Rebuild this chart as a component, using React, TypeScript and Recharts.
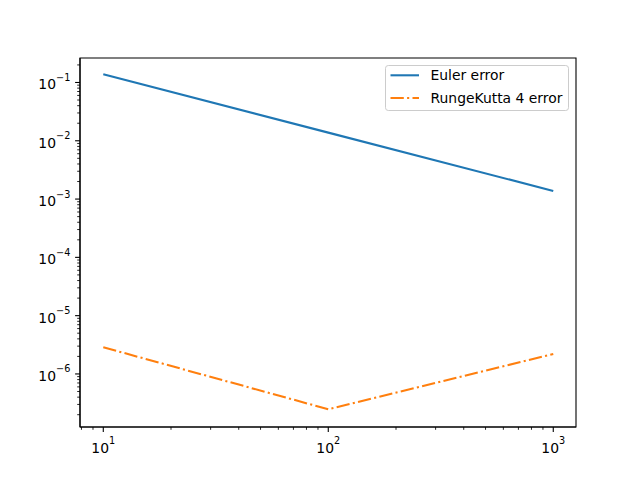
import { LineChart, Line, XAxis, YAxis, Legend, ReferenceArea } from 'recharts'

const N_VALUES = [10, 100, 1000]
const EULER_ERR = [0.138, 0.0138, 0.00138]
const RK4_ERR = [2.87e-6, 2.48e-7, 2.2e-6]

const X_DOMAIN = [7.88, 1262]
const Y_DOMAIN = [1.23e-7, 0.263]

const FONT = '"DejaVu Sans", sans-serif'
const BLUE = '#1f77b4'
const ORANGE = '#ff7f0e'
const DASHDOT = '13.3 3.3 2.1 3.3'

const data = N_VALUES.map((n, i) => ({ n, euler: EULER_ERR[i], rk4: RK4_ERR[i] }))

// log ticks: majors at powers of ten, minors at 2..9 x 10^k
function logTicks([lo, hi]: number[]) {
  const out: number[] = []
  for (let k = Math.floor(Math.log10(lo)); k <= Math.ceil(Math.log10(hi)); k++) {
    for (let m = 1; m <= 9; m++) {
      const v = m * Math.pow(10, k)
      if (v >= lo && v <= hi) out.push(v)
    }
  }
  return out
}

const isMajor = (v: number) => Math.abs(Math.log10(v) - Math.round(Math.log10(v))) < 1e-9
const expLabel = (v: number) => {
  const e = Math.round(Math.log10(v))
  return e < 0 ? '\u2212' + Math.abs(e) : String(e)
}

function XTick({ x, y, payload }: any) {
  const v = payload.value
  const major = isMajor(v)
  return (
    <g>
      <line x1={x} x2={x} y1={y} y2={y + (major ? 4.9 : 2.8)} stroke="#000" strokeWidth={major ? 1.1 : 0.85} />
      {major && (
        <text x={x} y={y + 25.5} textAnchor="middle" fontFamily={FONT} fontSize={13.9} fill="#000">
          10<tspan dy={-9} fontSize={9.7}>{expLabel(v)}</tspan>
        </text>
      )}
    </g>
  )
}

function YTick({ x, y, payload }: any) {
  const v = payload.value
  const major = isMajor(v)
  return (
    <g>
      <line x1={x - (major ? 4.9 : 2.8)} x2={x} y1={y} y2={y} stroke="#000" strokeWidth={major ? 1.1 : 0.85} />
      {major && (
        <text x={x - 9.7} y={y + 7} textAnchor="end" fontFamily={FONT} fontSize={13.9} fill="#000">
          10<tspan dy={-8.5} fontSize={9.7}>{expLabel(v)}</tspan>
        </text>
      )}
    </g>
  )
}

function LegendBox() {
  return (
    <svg width={185} height={47} style={{ display: 'block' }}>
      <rect x={0.5} y={0.5} width={183} height={45} rx={2.8} fill="#fff" fillOpacity={0.8} stroke="#cccccc" />
      <line x1={5.5} x2={34} y1={10.3} y2={10.3} stroke={BLUE} strokeWidth={2.08} />
      <text x={45.5} y={15.3} fontFamily={FONT} fontSize={13.9} fill="#000">Euler error</text>
      <line x1={5.5} x2={34} y1={33} y2={33} stroke={ORANGE} strokeWidth={2.08} strokeDasharray={DASHDOT} />
      <text x={45.5} y={38} fontFamily={FONT} fontSize={13.9} fill="#000">RungeKutta 4 error</text>
    </svg>
  )
}

export default function App() {
  return (
    <div style={{ position: 'absolute', left: 0, top: 0, width: 640, height: 480, background: '#fff' }}>
      <LineChart width={640} height={480} data={data} margin={{ top: 58, right: 64, left: 20, bottom: 23 }}>
        <XAxis
          xAxisId="b"
          dataKey="n"
          type="number"
          scale="log"
          domain={X_DOMAIN}
          allowDataOverflow
          ticks={logTicks(X_DOMAIN)}
          interval={0}
          tickSize={0}
          tickMargin={0}
          tickLine={false}
          axisLine={{ stroke: '#000', strokeWidth: 1.1 }}
          tick={(p: any) => <XTick {...p} />}
          height={30}
        />
        <YAxis
          yAxisId="l"
          type="number"
          scale="log"
          domain={Y_DOMAIN}
          allowDataOverflow
          ticks={logTicks(Y_DOMAIN)}
          interval={0}
          tickSize={0}
          tickMargin={0}
          tickLine={false}
          axisLine={{ stroke: '#000', strokeWidth: 1.1 }}
          tick={(p: any) => <YTick {...p} />}
          width={60}
        />
        {/* axes frame (top and right spines) */}
        <ReferenceArea
          xAxisId="b"
          yAxisId="l"
          x1={X_DOMAIN[0]}
          x2={X_DOMAIN[1]}
          y1={Y_DOMAIN[0]}
          y2={Y_DOMAIN[1]}
          fill="none"
          fillOpacity={0}
          stroke="#000"
          strokeWidth={1.1}
          ifOverflow="visible"
        />
        <Line
          xAxisId="b"
          yAxisId="l"
          type="linear"
          dataKey="euler"
          name="Euler error"
          stroke={BLUE}
          strokeWidth={2.08}
          dot={false}
          activeDot={false}
          isAnimationActive={false}
        />
        <Line
          xAxisId="b"
          yAxisId="l"
          type="linear"
          dataKey="rk4"
          name="RungeKutta 4 error"
          stroke={ORANGE}
          strokeWidth={2.08}
          strokeDasharray={DASHDOT}
          dot={false}
          activeDot={false}
          isAnimationActive={false}
        />
        <Legend
          layout="vertical"
          align="center"
          verticalAlign="middle"
          wrapperStyle={{ position: 'absolute', top: 65, left: 385, width: 185, height: 47 }}
          content={() => <LegendBox />}
        />
      </LineChart>
    </div>
  )
}
